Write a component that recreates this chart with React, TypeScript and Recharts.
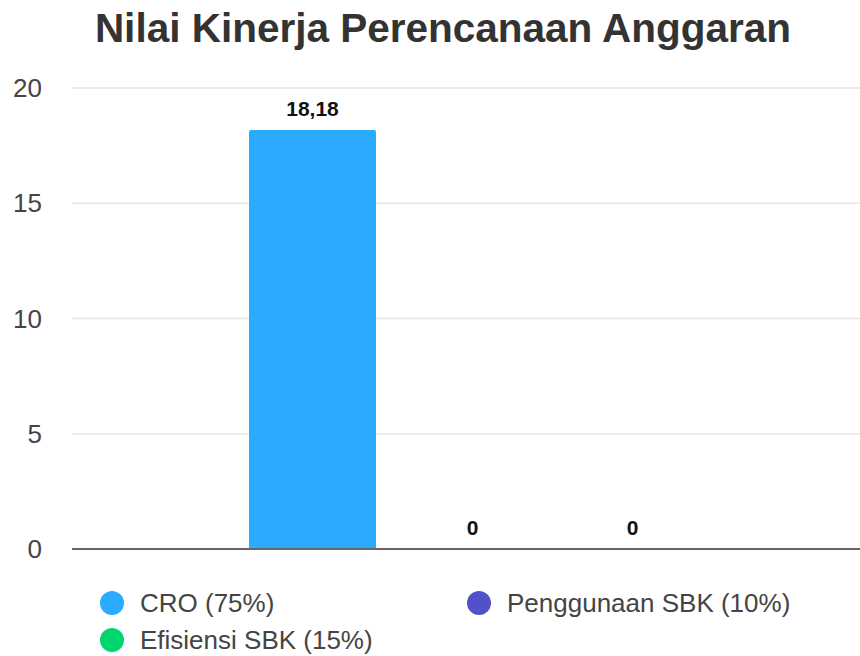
import React from "react";
import { BarChart, Bar, XAxis, YAxis, CartesianGrid, Legend, LabelList } from "recharts";

const categories = ["Nilai Kinerja"];
const croValues = [18.18];
const sbkUsageValues = [0];
const sbkEfficiencyValues = [0];
const yTicks = [0, 5, 10, 15, 20];

const series = [
  { key: "cro", name: "CRO (75%)", color: "#2BABFE" },
  { key: "penggunaan", name: "Penggunaan SBK (10%)", color: "#5351C9" },
  { key: "efisiensi", name: "Efisiensi SBK (15%)", color: "#00D66F" },
];

const data = categories.map((name, i) => ({
  name,
  cro: croValues[i],
  penggunaan: sbkUsageValues[i],
  efisiensi: sbkEfficiencyValues[i],
}));

const FONT = "'Liberation Sans', Arial, sans-serif";

const fmt = (v: any) => String(v).replace(".", ",");

function LegendContent(props: any) {
  // keep the series order instead of the alphabetical default
  const items = [...(props.payload || [])].sort(
    (a: any, b: any) =>
      series.findIndex((s) => s.name === a.value) - series.findIndex((s) => s.name === b.value)
  );
  return (
    <div
      style={{
        display: "grid",
        gridTemplateColumns: "367px auto",
        gridAutoRows: "37px",
        paddingLeft: 100,
        fontFamily: FONT,
        fontSize: 26,
        color: "#444",
      }}
    >
      {items.map((it: any) => (
        <div key={it.value} style={{ display: "flex", alignItems: "center", height: 30 }}>
          <span
            style={{
              width: 24,
              height: 24,
              borderRadius: "50%",
              background: it.color,
              marginRight: 16,
              flex: "none",
            }}
          />
          <span>{it.value}</span>
        </div>
      ))}
    </div>
  );
}

export default function App() {
  return (
    <div style={{ position: "absolute", left: 0, top: 0, width: 860, height: 656, background: "#fff" }}>
      <div
        style={{
          position: "absolute",
          left: 0,
          top: 8,
          width: 886,
          textAlign: "center",
          fontFamily: FONT,
          fontWeight: "bold",
          fontSize: 40.5,
          lineHeight: "40px",
          color: "#333",
        }}
      >
        Nilai Kinerja Perencanaan Anggaran
      </div>
      <BarChart
        width={860}
        height={656}
        data={data}
        margin={{ top: 88, right: 0, left: 0, bottom: 105 }}
        barSize={127}
        barGap={33}
      >
        <CartesianGrid horizontal vertical={false} stroke="#e6e6e6" strokeWidth={1.5} />
        <XAxis
          dataKey="name"
          tick={false}
          tickLine={false}
          height={2}
          padding={{ left: 13, right: 0 }}
          axisLine={{ stroke: "#666", strokeWidth: 2 }}
        />
        <YAxis
          domain={[0, 20]}
          ticks={yTicks}
          width={72}
          axisLine={false}
          tickLine={false}
          tickMargin={24}
          tick={{ fontFamily: FONT, fontSize: 26, fill: "#444" }}
        />
        <Legend
          layout="vertical"
          verticalAlign="middle"
          align="center"
          wrapperStyle={{ top: 588, left: 0, width: 860 }}
          content={<LegendContent />}
        />
        {series.map((s) => (
          <Bar
            key={s.key}
            dataKey={s.key}
            name={s.name}
            fill={s.color}
            minPointSize={0.01}
            isAnimationActive={false}
            radius={[2, 2, 0, 0]}
          >
            <LabelList
              dataKey={s.key}
              position="top"
              offset={14}
              formatter={fmt}
              style={{ fontFamily: FONT, fontSize: 21, fontWeight: "bold", fill: "#111" }}
            />
          </Bar>
        ))}
      </BarChart>
    </div>
  );
}
